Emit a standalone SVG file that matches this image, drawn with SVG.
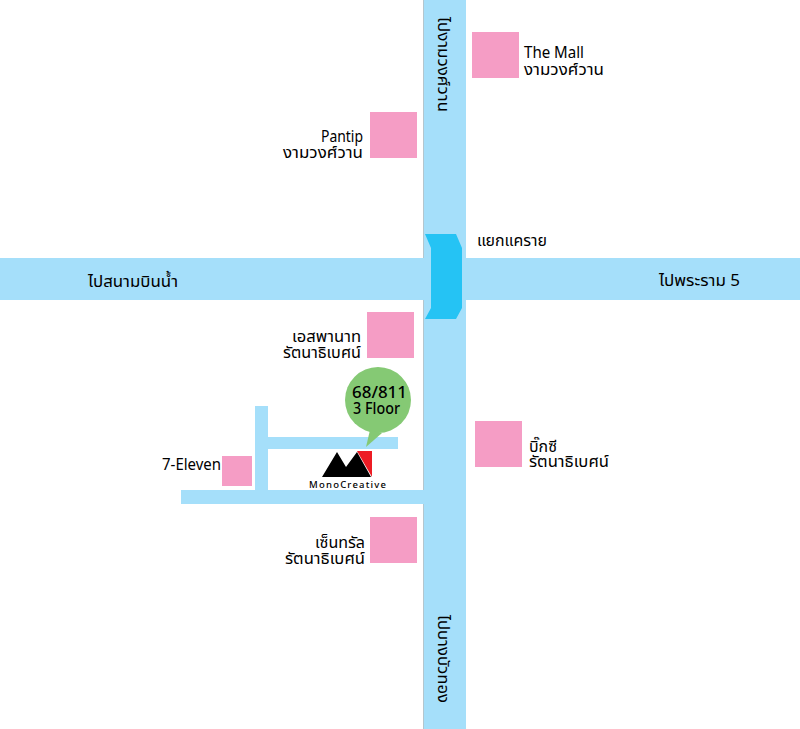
<svg xmlns="http://www.w3.org/2000/svg" width="800" height="729" viewBox="0 0 800 729">
<style>
.road{fill:#a5dffa}
.shop{fill:#f59dc5}
.edge{fill:#b4c6ce}
text{font-family:"Noto Sans Thai","Noto Sans","DejaVu Sans","Liberation Sans",sans-serif;font-size:16px;fill:#000}
.b{font-weight:500}
</style>
<rect width="800" height="729" fill="#fff"/>
<g id="connectors">
<rect class="edge" x="423" y="0" width="1" height="258"/>
<rect class="edge" x="423" y="300" width="1" height="429"/>
<rect class="road" x="424" y="0" width="42" height="729"/>
<rect class="road" x="0" y="258" width="800" height="42"/>
<rect class="road" x="255" y="406" width="13" height="86"/>
<rect class="road" x="268" y="437" width="130" height="12"/>
<rect class="road" x="181" y="490" width="243" height="14"/>
<path d="M425 234H456L462 248V308L456 319H425L431 308V248Z" fill="#25c3f4"/>
</g>
<g id="road-labels">
<text transform="translate(438 17) rotate(90)" textLength="95" lengthAdjust="spacingAndGlyphs">ไปงามวงศ์วาน</text>
<text transform="translate(438 615) rotate(90)" textLength="88" lengthAdjust="spacingAndGlyphs">ไปบางบัวทอง</text>
<text x="88" y="287" textLength="90" lengthAdjust="spacingAndGlyphs">ไปสนามบินน้ำ</text>
<text x="659" y="286" textLength="81" lengthAdjust="spacingAndGlyphs">ไปพระราม 5</text>
<text x="477" y="246" textLength="70" lengthAdjust="spacingAndGlyphs">แยกแคราย</text>
</g>
<g id="the-mall"><rect class="shop" x="472" y="32" width="47" height="46"/><text x="524" y="58" textLength="60" lengthAdjust="spacingAndGlyphs">The Mall</text><text x="524" y="75" textLength="80" lengthAdjust="spacingAndGlyphs">งามวงศ์วาน</text></g>
<g id="pantip"><rect class="shop" x="370" y="112" width="47" height="46"/><text x="321" y="142" textLength="42" lengthAdjust="spacingAndGlyphs">Pantip</text><text x="283" y="158" textLength="80" lengthAdjust="spacingAndGlyphs">งามวงศ์วาน</text></g>
<g id="esplanade"><rect class="shop" x="367" y="312" width="47" height="46"/><text x="292" y="342" textLength="69" lengthAdjust="spacingAndGlyphs">เอสพานาท</text><text x="283" y="358" textLength="78" lengthAdjust="spacingAndGlyphs">รัตนาธิเบศน์</text></g>
<g id="bigc"><rect class="shop" x="475" y="421" width="47" height="46"/><text x="529" y="452" textLength="28" lengthAdjust="spacingAndGlyphs">บิ๊กซี</text><text x="529" y="467" textLength="80" lengthAdjust="spacingAndGlyphs">รัตนาธิเบศน์</text></g>
<g id="central"><rect class="shop" x="370" y="517" width="47" height="46"/><text x="315" y="548" textLength="50" lengthAdjust="spacingAndGlyphs">เซ็นทรัล</text><text x="285" y="564" textLength="80" lengthAdjust="spacingAndGlyphs">รัตนาธิเบศน์</text></g>
<g id="seven-eleven"><rect class="shop" x="222" y="456" width="30" height="30"/><text x="162" y="470" textLength="59" lengthAdjust="spacingAndGlyphs">7-Eleven</text></g>
<g id="pin"><circle cx="378" cy="400" r="33" fill="#85c974"/><path d="M370 430L366 447L382 433Z" fill="#85c974"/><text class="b" x="352" y="398" textLength="55" lengthAdjust="spacingAndGlyphs">68/811</text><text class="b" x="353" y="414" textLength="47" lengthAdjust="spacingAndGlyphs">3 Floor</text></g>
<g id="monocreative"><path d="M322 477L337 452L346 467L357 452L371 477Z" fill="#000"/><path d="M357 451H372V477Z" fill="#ed1c24"/><text class="b" x="309" y="488" textLength="77" style="font-size:9.5px">MonoCreative</text></g>
</svg>
